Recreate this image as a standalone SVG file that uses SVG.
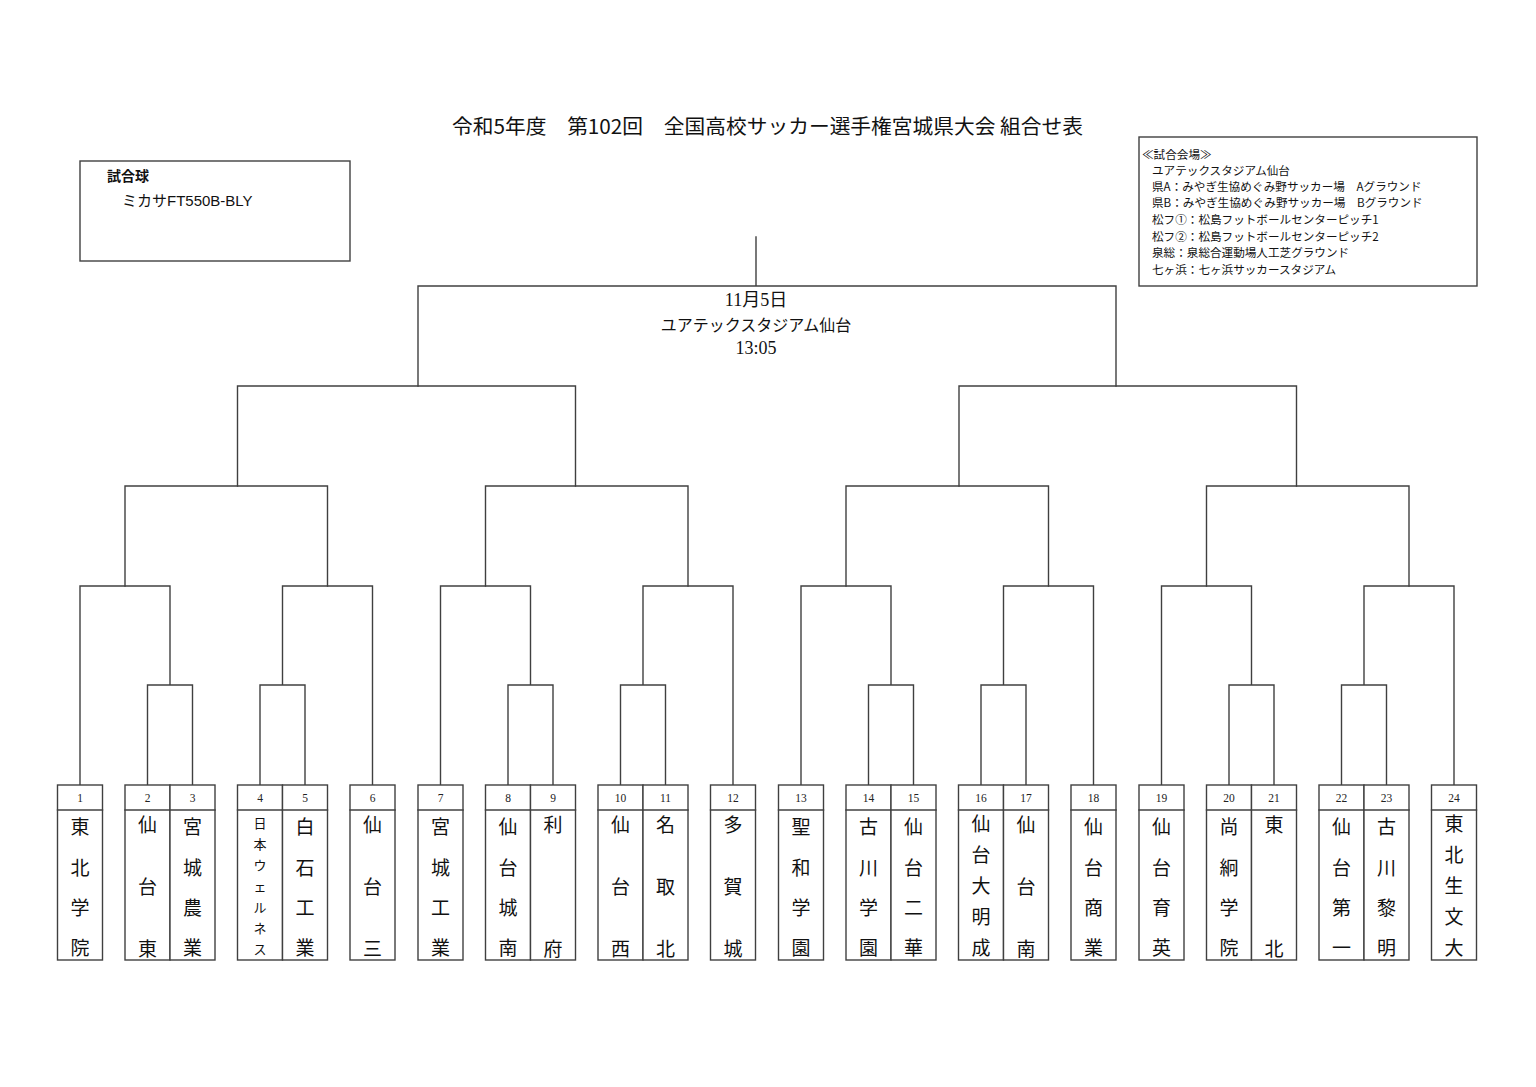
<svg xmlns="http://www.w3.org/2000/svg" width="1536" height="1087" viewBox="0 0 1536 1087">
<style>
.ln{fill:none;stroke:#404040;stroke-width:1.4;stroke-linecap:square}
.box{fill:#fff;stroke:#404040;stroke-width:1.4}
.num{font-family:"Liberation Serif","Noto Sans CJK JP",serif;font-size:11.5px;text-anchor:middle;dominant-baseline:central;fill:#222}
.nm{font-family:"Noto Sans CJK JP",sans-serif;font-size:19px;text-anchor:middle;dominant-baseline:central;fill:#111}
.sm{font-family:"Noto Sans CJK JP",sans-serif;font-size:13px;text-anchor:middle;dominant-baseline:central;fill:#111}
.ttl{font-family:"Noto Sans CJK JP",sans-serif;font-size:20px;dominant-baseline:central;fill:#111}
.ctr{font-family:"Liberation Serif","Noto Sans CJK JP",serif;font-size:18px;text-anchor:middle;dominant-baseline:central;fill:#111}
.ctr-k{font-family:"Noto Sans CJK JP",sans-serif;font-size:16px;text-anchor:middle;dominant-baseline:central;fill:#111}
.ven{font-family:"Noto Sans CJK JP",sans-serif;font-size:11.6px;dominant-baseline:central;fill:#111}
.ball{font-family:"Liberation Sans","Noto Sans CJK JP",sans-serif;font-size:15px;dominant-baseline:central;fill:#111}
.ball-h{font-family:"Noto Sans CJK JP",sans-serif;font-size:14px;font-weight:bold;dominant-baseline:central;fill:#111}
</style>

<text id="title" class="ttl" x="452" y="125" textLength="631" lengthAdjust="spacingAndGlyphs" xml:space="preserve">令和5年度　第102回　全国高校サッカー選手権宮城県大会 組合せ表</text>

<g id="ball-box">
<rect class="box" x="80" y="161" width="270" height="100"/>
<text class="ball-h" x="107" y="175">試合球</text>
<text class="ball" x="122" y="200">ミカサFT550B-BLY</text>
</g>

<g id="venue-box">
<rect class="box" x="1139" y="137" width="338" height="149"/>
<text class="ven" x="1142" y="154">≪試合会場≫</text>
<text class="ven" x="1152" y="170">ユアテックスタジアム仙台</text>
<text class="ven" x="1152" y="186">県A：みやぎ生協めぐみ野サッカー場　Aグラウンド</text>
<text class="ven" x="1152" y="202">県B：みやぎ生協めぐみ野サッカー場　Bグラウンド</text>
<text class="ven" x="1152" y="219">松フ①：松島フットボールセンターピッチ1</text>
<text class="ven" x="1152" y="236">松フ②：松島フットボールセンターピッチ2</text>
<text class="ven" x="1152" y="252">泉総：泉総合運動場人工芝グラウンド</text>
<text class="ven" x="1152" y="269">七ヶ浜：七ヶ浜サッカースタジアム</text>
</g>

<g id="final-info">
<text class="ctr" x="756" y="300">11月5日</text>
<text class="ctr-k" x="756" y="324">ユアテックスタジアム仙台</text>
<text class="ctr" x="756" y="348">13:05</text>
</g>

<g id="connectors" class="ln">
<path d="M756 237V286M418 386V286H1116V386"/>
<path d="M237.5 486V386H575.5V486M959 486V386H1296.5V486"/>
<path d="M125 586V486H327.5V586"/>
<path d="M485.5 586V486H688V586"/>
<path d="M846 586V486H1048.5V586"/>
<path d="M1206.5 586V486H1409V586"/>
<path d="M80 785V586H170V685M147.5 785V685H192.5V785"/>
<path d="M260 785V685H305V785M282.5 685V586H372.5V785"/>
<path d="M440.5 785V586H530.5V685M508 785V685H553V785"/>
<path d="M620.5 785V685H665.5V785M643 685V586H733V785"/>
<path d="M801 785V586H891V685M868.5 785V685H913.5V785"/>
<path d="M981 785V685H1026V785M1003.5 685V586H1093.5V785"/>
<path d="M1161.5 785V586H1251.5V685M1229 785V685H1274V785"/>
<path d="M1341.5 785V685H1386.5V785M1364 685V586H1454V785"/>
</g>

<g id="team-1"><rect class="box" x="57.5" y="785" width="45" height="175"/><path class="ln" d="M57.5 810H102.5"/><text class="num" x="80" y="798">1</text><text class="nm"><tspan x="80" y="825">東</tspan><tspan x="80" y="866">北</tspan><tspan x="80" y="906">学</tspan><tspan x="80" y="946">院</tspan></text></g>
<g id="team-2"><rect class="box" x="125" y="785" width="45" height="175"/><path class="ln" d="M125 810H170"/><text class="num" x="147.5" y="798">2</text><text class="nm"><tspan x="147.5" y="823">仙</tspan><tspan x="147.5" y="885">台</tspan><tspan x="147.5" y="947">東</tspan></text></g>
<g id="team-3"><rect class="box" x="170" y="785" width="45" height="175"/><path class="ln" d="M170 810H215"/><text class="num" x="192.5" y="798">3</text><text class="nm"><tspan x="192.5" y="825">宮</tspan><tspan x="192.5" y="866">城</tspan><tspan x="192.5" y="906">農</tspan><tspan x="192.5" y="946">業</tspan></text></g>
<g id="team-4"><rect class="box" x="237.5" y="785" width="45" height="175"/><path class="ln" d="M237.5 810H282.5"/><text class="num" x="260" y="798">4</text><text class="sm"><tspan x="260" y="822">日</tspan><tspan x="260" y="843">本</tspan><tspan x="260" y="864">ウ</tspan><tspan x="260" y="885">ェ</tspan><tspan x="260" y="906">ル</tspan><tspan x="260" y="927">ネ</tspan><tspan x="260" y="948">ス</tspan></text></g>
<g id="team-5"><rect class="box" x="282.5" y="785" width="45" height="175"/><path class="ln" d="M282.5 810H327.5"/><text class="num" x="305" y="798">5</text><text class="nm"><tspan x="305" y="825">白</tspan><tspan x="305" y="866">石</tspan><tspan x="305" y="906">工</tspan><tspan x="305" y="946">業</tspan></text></g>
<g id="team-6"><rect class="box" x="350" y="785" width="45" height="175"/><path class="ln" d="M350 810H395"/><text class="num" x="372.5" y="798">6</text><text class="nm"><tspan x="372.5" y="823">仙</tspan><tspan x="372.5" y="885">台</tspan><tspan x="372.5" y="947">三</tspan></text></g>

<g id="team-7"><rect class="box" x="418" y="785" width="45" height="175"/><path class="ln" d="M418 810H463"/><text class="num" x="440.5" y="798">7</text><text class="nm"><tspan x="440.5" y="825">宮</tspan><tspan x="440.5" y="866">城</tspan><tspan x="440.5" y="906">工</tspan><tspan x="440.5" y="946">業</tspan></text></g>
<g id="team-8"><rect class="box" x="485.5" y="785" width="45" height="175"/><path class="ln" d="M485.5 810H530.5"/><text class="num" x="508" y="798">8</text><text class="nm"><tspan x="508" y="825">仙</tspan><tspan x="508" y="866">台</tspan><tspan x="508" y="906">城</tspan><tspan x="508" y="946">南</tspan></text></g>
<g id="team-9"><rect class="box" x="530.5" y="785" width="45" height="175"/><path class="ln" d="M530.5 810H575.5"/><text class="num" x="553" y="798">9</text><text class="nm"><tspan x="553" y="823">利</tspan><tspan x="553" y="947">府</tspan></text></g>
<g id="team-10"><rect class="box" x="598" y="785" width="45" height="175"/><path class="ln" d="M598 810H643"/><text class="num" x="620.5" y="798">10</text><text class="nm"><tspan x="620.5" y="823">仙</tspan><tspan x="620.5" y="885">台</tspan><tspan x="620.5" y="947">西</tspan></text></g>
<g id="team-11"><rect class="box" x="643" y="785" width="45" height="175"/><path class="ln" d="M643 810H688"/><text class="num" x="665.5" y="798">11</text><text class="nm"><tspan x="665.5" y="823">名</tspan><tspan x="665.5" y="885">取</tspan><tspan x="665.5" y="947">北</tspan></text></g>
<g id="team-12"><rect class="box" x="710.5" y="785" width="45" height="175"/><path class="ln" d="M710.5 810H755.5"/><text class="num" x="733" y="798">12</text><text class="nm"><tspan x="733" y="823">多</tspan><tspan x="733" y="885">賀</tspan><tspan x="733" y="947">城</tspan></text></g>

<g id="team-13"><rect class="box" x="778.5" y="785" width="45" height="175"/><path class="ln" d="M778.5 810H823.5"/><text class="num" x="801" y="798">13</text><text class="nm"><tspan x="801" y="825">聖</tspan><tspan x="801" y="866">和</tspan><tspan x="801" y="906">学</tspan><tspan x="801" y="946">園</tspan></text></g>
<g id="team-14"><rect class="box" x="846" y="785" width="45" height="175"/><path class="ln" d="M846 810H891"/><text class="num" x="868.5" y="798">14</text><text class="nm"><tspan x="868.5" y="825">古</tspan><tspan x="868.5" y="866">川</tspan><tspan x="868.5" y="906">学</tspan><tspan x="868.5" y="946">園</tspan></text></g>
<g id="team-15"><rect class="box" x="891" y="785" width="45" height="175"/><path class="ln" d="M891 810H936"/><text class="num" x="913.5" y="798">15</text><text class="nm"><tspan x="913.5" y="825">仙</tspan><tspan x="913.5" y="866">台</tspan><tspan x="913.5" y="906">二</tspan><tspan x="913.5" y="946">華</tspan></text></g>
<g id="team-16"><rect class="box" x="958.5" y="785" width="45" height="175"/><path class="ln" d="M958.5 810H1003.5"/><text class="num" x="981" y="798">16</text><text class="nm"><tspan x="981" y="822">仙</tspan><tspan x="981" y="853">台</tspan><tspan x="981" y="884">大</tspan><tspan x="981" y="915">明</tspan><tspan x="981" y="946">成</tspan></text></g>
<g id="team-17"><rect class="box" x="1003.5" y="785" width="45" height="175"/><path class="ln" d="M1003.5 810H1048.5"/><text class="num" x="1026" y="798">17</text><text class="nm"><tspan x="1026" y="823">仙</tspan><tspan x="1026" y="885">台</tspan><tspan x="1026" y="947">南</tspan></text></g>
<g id="team-18"><rect class="box" x="1071" y="785" width="45" height="175"/><path class="ln" d="M1071 810H1116"/><text class="num" x="1093.5" y="798">18</text><text class="nm"><tspan x="1093.5" y="825">仙</tspan><tspan x="1093.5" y="866">台</tspan><tspan x="1093.5" y="906">商</tspan><tspan x="1093.5" y="946">業</tspan></text></g>

<g id="team-19"><rect class="box" x="1139" y="785" width="45" height="175"/><path class="ln" d="M1139 810H1184"/><text class="num" x="1161.5" y="798">19</text><text class="nm"><tspan x="1161.5" y="825">仙</tspan><tspan x="1161.5" y="866">台</tspan><tspan x="1161.5" y="906">育</tspan><tspan x="1161.5" y="946">英</tspan></text></g>
<g id="team-20"><rect class="box" x="1206.5" y="785" width="45" height="175"/><path class="ln" d="M1206.5 810H1251.5"/><text class="num" x="1229" y="798">20</text><text class="nm"><tspan x="1229" y="825">尚</tspan><tspan x="1229" y="866">絅</tspan><tspan x="1229" y="906">学</tspan><tspan x="1229" y="946">院</tspan></text></g>
<g id="team-21"><rect class="box" x="1251.5" y="785" width="45" height="175"/><path class="ln" d="M1251.5 810H1296.5"/><text class="num" x="1274" y="798">21</text><text class="nm"><tspan x="1274" y="823">東</tspan><tspan x="1274" y="947">北</tspan></text></g>
<g id="team-22"><rect class="box" x="1319" y="785" width="45" height="175"/><path class="ln" d="M1319 810H1364"/><text class="num" x="1341.5" y="798">22</text><text class="nm"><tspan x="1341.5" y="825">仙</tspan><tspan x="1341.5" y="866">台</tspan><tspan x="1341.5" y="906">第</tspan><tspan x="1341.5" y="946">一</tspan></text></g>
<g id="team-23"><rect class="box" x="1364" y="785" width="45" height="175"/><path class="ln" d="M1364 810H1409"/><text class="num" x="1386.5" y="798">23</text><text class="nm"><tspan x="1386.5" y="825">古</tspan><tspan x="1386.5" y="866">川</tspan><tspan x="1386.5" y="906">黎</tspan><tspan x="1386.5" y="946">明</tspan></text></g>
<g id="team-24"><rect class="box" x="1431.5" y="785" width="45" height="175"/><path class="ln" d="M1431.5 810H1476.5"/><text class="num" x="1454" y="798">24</text><text class="nm"><tspan x="1454" y="822">東</tspan><tspan x="1454" y="853">北</tspan><tspan x="1454" y="884">生</tspan><tspan x="1454" y="915">文</tspan><tspan x="1454" y="946">大</tspan></text></g>
</svg>
